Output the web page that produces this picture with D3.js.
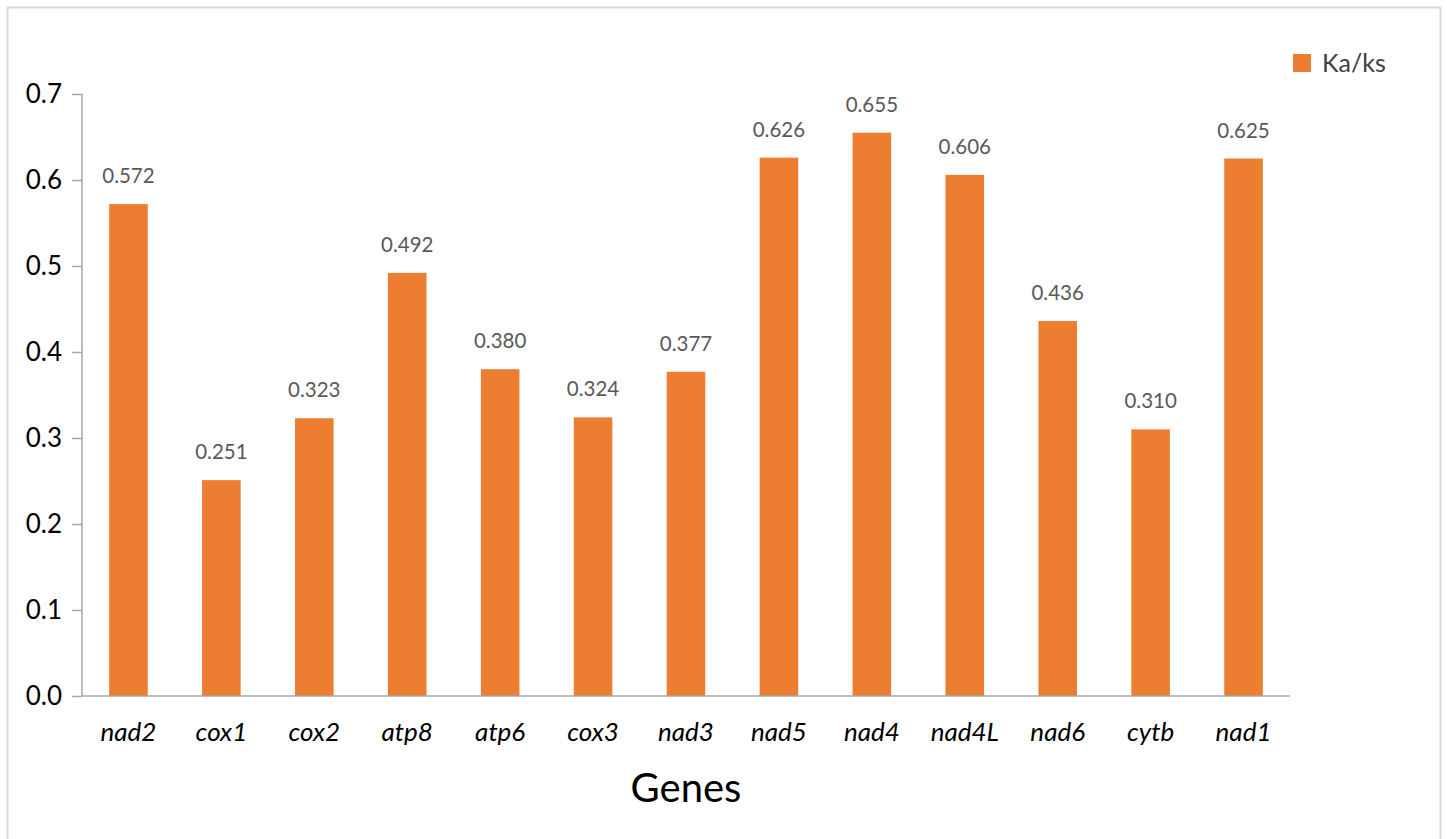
<!DOCTYPE html>
<html>
<head>
<meta charset="utf-8">
<script src="https://cdn.jsdelivr.net/npm/d3@7/dist/d3.min.js"></script>
<style>
  html, body { margin: 0; padding: 0; background: #fff; }
  svg { display: block; }
</style>
</head>
<body>
<svg id="chart" width="1447" height="839"></svg>
<script>
const genes = ["nad2","cox1","cox2","atp8","atp6","cox3","nad3","nad5","nad4","nad4L","nad6","cytb","nad1"];
const kaks = [0.572,0.251,0.323,0.492,0.380,0.324,0.377,0.626,0.655,0.606,0.436,0.310,0.625];
const yTicks = [0,0.1,0.2,0.3,0.4,0.5,0.6,0.7];
const seriesName = "Ka/ks";
const xTitle = "Genes";

const FONT = "Lato, 'Open Sans', sans-serif";
const BAR = "#ED7D31";
const svg = d3.select("#chart");

svg.append("rect").attr("x", 7.5).attr("y", 7.5).attr("width", 1433).attr("height", 840)
  .attr("fill", "#fff").attr("stroke", "#d9d9d9").attr("stroke-width", 2);

const x = d3.scaleBand().domain(genes).range([82, 1290]).paddingInner(0.585).paddingOuter(0.2925);
const y = d3.scaleLinear().domain([0, 0.7]).range([696, 94]);

// bars
svg.append("g").selectAll("rect").data(genes).join("rect")
  .attr("x", d => x(d)).attr("width", x.bandwidth())
  .attr("y", (d, i) => y(kaks[i])).attr("height", (d, i) => y(0) - y(kaks[i]))
  .attr("fill", BAR);

// value labels
svg.append("g").selectAll("text").data(genes).join("text")
  .attr("x", d => x(d) + x.bandwidth() / 2)
  .attr("y", (d, i) => y(kaks[i]) - 21)
  .attr("text-anchor", "middle")
  .attr("font-family", FONT).attr("font-size", 20.5).attr("fill", "#595959")
  .text((d, i) => kaks[i].toFixed(3));

// y axis
const yAxis = svg.append("g").attr("transform", "translate(82,0)")
  .call(d3.axisLeft(y).tickValues(yTicks).tickFormat(d3.format(".1f")).tickSize(10).tickPadding(10));
yAxis.select(".domain").attr("stroke", "#a6a6a6").attr("stroke-width", 1.5).attr("d", "M0,94V696");
yAxis.selectAll(".tick line").attr("stroke", "#a6a6a6").attr("stroke-width", 1.5);
yAxis.selectAll(".tick text").attr("font-family", FONT).attr("font-size", 26).attr("fill", "#000");

// x axis
const xAxis = svg.append("g").attr("transform", "translate(0,696)")
  .call(d3.axisBottom(x).tickSize(0).tickPadding(27));
xAxis.select(".domain").attr("stroke", "#a6a6a6").attr("stroke-width", 1.5).attr("d", "M82,0H1290");
xAxis.selectAll(".tick text").attr("font-family", FONT).attr("font-size", 26)
  .attr("font-style", "italic").attr("fill", "#000");

// x title
svg.append("text").attr("x", (82 + 1290) / 2).attr("y", 802).attr("text-anchor", "middle")
  .attr("font-family", FONT).attr("font-size", 40).attr("fill", "#000").text(xTitle);

// legend
svg.append("rect").attr("x", 1293).attr("y", 54).attr("width", 18).attr("height", 18).attr("fill", BAR);
svg.append("text").attr("x", 1322).attr("y", 72).attr("font-family", FONT).attr("font-size", 25)
  .attr("fill", "#404040").text(seriesName);
</script>
</body>
</html>
